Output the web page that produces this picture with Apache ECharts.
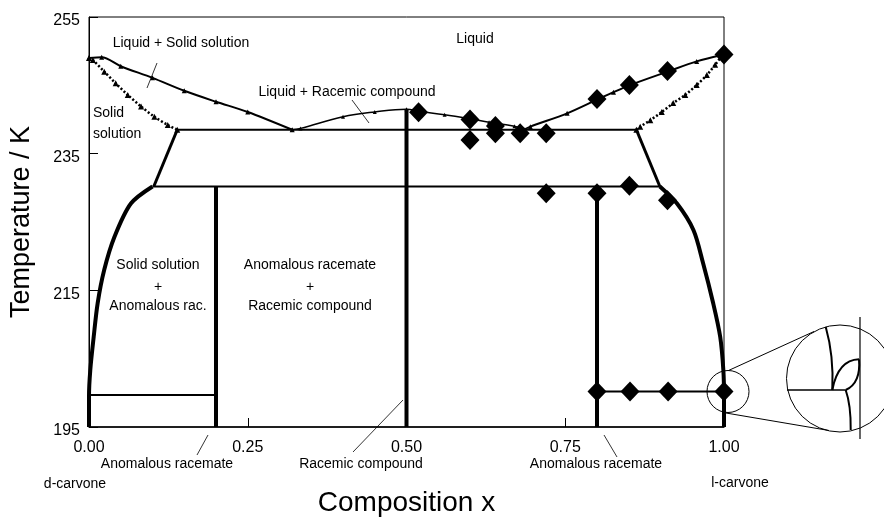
<!DOCTYPE html>
<html><head><meta charset="utf-8">
<script src="https://cdn.jsdelivr.net/npm/echarts@6/dist/echarts.min.js"></script>
<style>html,body{margin:0;padding:0;background:#fff}#c{width:884px;height:525px}</style>
</head><body><div id="c"></div>
<script>
// ---- axis ticks ----
const xTickValues = [0, 0.25, 0.5, 0.75, 1];
const yTickValues = [195, 215, 235, 255];

// ---- phase boundaries (composition x, temperature K) ----
const liquidusSolidSolutionL = [[0,249.0],[0.02,249.1],[0.05,247.8],[0.10,246.1],[0.15,244.2],[0.20,242.6],[0.25,241.1],[0.32,238.5]];
const solidusL = [[0,249.0],[0.006,248.7],[0.024,247.0],[0.042,245.3],[0.061,243.6],[0.082,241.9],[0.103,240.4],[0.124,239.2],[0.139,238.5]];
const racemicLiquidus = [[0.32,238.5],[0.333,238.7],[0.40,240.4],[0.45,241.1],[0.50,241.5],[0.52,241.2],[0.56,240.7],[0.60,240.1],[0.63,239.6],[0.67,239.0],[0.685,238.5]];
const liquidusSolidSolutionR = [[0.685,238.5],[0.695,238.95],[0.753,240.9],[0.80,242.9],[0.826,244.0],[0.851,245.0],[0.911,247.0],[0.957,248.5],[1.0,249.5]];
const solidusR = [[0.862,238.5],[0.868,238.95],[0.884,239.9],[0.902,241.1],[0.920,242.4],[0.939,243.6],[0.957,245.05],[0.973,246.5],[0.986,248.0],[0.996,249.2],[1.0,249.5]];
const steepL = [[0.139,238.5],[0.102,230.2]];
const steepR = [[0.862,238.5],[0.899,230.2]];
const eutecticLine = [[0.139,238.5],[0.862,238.5]];
const transitionLine = [[0.100,230.2],[0.899,230.2]];
const lowLineL = [[0,199.7],[0.2,199.7]];
const lowLineR = [[0.8,200.2],[1.0,200.2]];
const anomalousL = [[0.2,195],[0.2,230.2]];
const racemicCompound = [[0.5,195],[0.5,241.5]];
const anomalousR = [[0.8,195],[0.8,230.2]];
const solvusL = [[0,195],[0,199.5],[0.002,203.3],[0.0074,208.2],[0.0136,213.1],[0.024,218.0],[0.040,222.8],[0.066,227.7],[0.100,230.2]];
const solvusR = [[1,195],[1,199.5],[0.999,203.3],[0.994,208.2],[0.983,213.1],[0.967,219.0],[0.952,223.8],[0.926,227.7],[0.899,230.2]];

// ---- experimental points ----
const experimental = [[0.519,241.05],[0.600,240.0],[0.600,237.0],[0.640,239.05],[0.640,238.0],[0.679,238.0],[0.720,238.0],
  [0.800,243.0],[0.851,245.05],[0.911,247.1],[1.0,249.5],
  [0.720,229.2],[0.800,229.2],[0.851,230.3],[0.911,228.2],
  [0.800,200.2],[0.852,200.2],[0.912,200.2],[1.0,200.2]];

const FONT = "'Liberation Sans', Arial, Helvetica, sans-serif";
const chart = echarts.init(document.getElementById('c'), null, {renderer:'canvas'});

function line(data, width, opts) {
  return Object.assign({
    type:'line', data:data, showSymbol:false, symbol:'none', silent:true, animation:false,
    lineStyle:{color:'#000', width:width}, itemStyle:{color:'#000'}, z:3
  }, opts || {});
}
function triLine(data, width, size, smooth, dashed) {
  return line(data, width, {
    smooth: smooth, showSymbol:true, symbol:'triangle', symbolSize:size,
    lineStyle:{color:'#000', width:width, type: dashed ? [2,2] : 'solid'}
  });
}

function txt(text, x, y, size, align) {
  return {type:'text', silent:true, z:20, style:{text:text, x:x, y:y, font:(size||14)+'px '+FONT, fill:'#000',
    textAlign:align||'center', textVerticalAlign:'middle', align:align||'center', verticalAlign:'middle'}};
}
function seg(x1,y1,x2,y2,w) {
  return {type:'line', silent:true, z:20, shape:{x1:x1,y1:y1,x2:x2,y2:y2}, style:{stroke:'#000', lineWidth:w||0.8}};
}
function bez(x1,y1,cx,cy,x2,y2,w) {
  return {type:'bezierCurve', silent:true, z:20, shape:{x1:x1,y1:y1,cpx1:cx,cpy1:cy,x2:x2,y2:y2}, style:{stroke:'#000', lineWidth:w||2, fill:null}};
}
function circ(cx,cy,r) {
  return {type:'circle', silent:true, z:20, shape:{cx:cx,cy:cy,r:r}, style:{stroke:'#000', lineWidth:1, fill:'rgba(0,0,0,0)'}};
}

const option = {
  backgroundColor:'#fff',
  animation:false,
  grid:{left:88, right:160, top:17, bottom:98, show:true, borderColor:'#000', borderWidth:1, backgroundColor:'transparent'},
  xAxis:{
    type:'value', min:0, max:1,
    name:'Composition x', nameLocation:'middle', nameGap:62,
    nameTextStyle:{fontFamily:FONT, fontSize:28, color:'#000'},
    axisLine:{show:true, lineStyle:{color:'#000', width:1.5}},
    axisTick:{show:true, inside:true, length:9, customValues:xTickValues, lineStyle:{color:'#000'}},
    axisLabel:{show:true, customValues:xTickValues, margin:13, fontFamily:FONT, fontSize:16, color:'#000',
      formatter:function(v){return v.toFixed(2);}},
    splitLine:{show:false}
  },
  yAxis:{
    type:'value', min:195, max:255,
    name:'Temperature / K', nameLocation:'middle', nameGap:54,
    nameTextStyle:{fontFamily:FONT, fontSize:27, color:'#000'},
    axisLine:{show:true, lineStyle:{color:'#000', width:1}},
    axisTick:{show:true, inside:true, length:9, customValues:yTickValues, lineStyle:{color:'#000'}},
    axisLabel:{show:true, customValues:yTickValues, margin:9, fontFamily:FONT, fontSize:16, color:'#000',
      formatter:function(v){return '{v|' + v + '}';},
      rich:{v:{fontFamily:FONT, fontSize:16, color:'#000', padding:[8,0,0,0]}}},
    splitLine:{show:false}
  },
  series:[
    triLine(liquidusSolidSolutionL, 2, 5, 0.3, false),
    triLine(solidusL, 2.5, 6, 0.3, true),
    triLine(racemicLiquidus, 1.5, 4, 0.4, false),
    triLine(liquidusSolidSolutionR, 2, 5, 0.3, false),
    triLine(solidusR, 2.5, 6, 0.3, true),
    line(steepL, 3),
    line(steepR, 3),
    line(eutecticLine, 2),
    line(transitionLine, 2),
    line(lowLineL, 2),
    line(lowLineR, 2),
    line(anomalousL, 4),
    line(racemicCompound, 4),
    line(anomalousR, 4),
    line(solvusL, 4, {smooth:0.3}),
    line(solvusR, 4, {smooth:0.3}),
    {type:'scatter', data:experimental, symbol:'diamond', symbolSize:[19,20], clip:false, silent:true, animation:false,
      itemStyle:{color:'#000', opacity:1}, z:5}
  ],
  graphic:{elements:[
    txt('Liquid', 475, 39),
    txt('Liquid + Solid solution', 181, 43),
    seg(157,63,147,88),
    txt('Liquid + Racemic compound', 347, 92),
    seg(352,100,369,123),
    txt('Solid', 93, 113, 14, 'left'),
    txt('solution', 93, 134, 14, 'left'),
    txt('Solid solution', 158, 265),
    txt('+', 158, 287),
    txt('Anomalous rac.', 158, 306),
    txt('Anomalous racemate', 310, 265),
    txt('+', 310, 287),
    txt('Racemic compound', 310, 306),
    txt('Anomalous racemate', 167, 464),
    seg(208,435,197,455),
    txt('Racemic compound', 361, 464),
    seg(403,400,353,452),
    txt('Anomalous racemate', 596, 464),
    seg(604,435,617,457),
    txt('d-carvone', 75, 484),
    txt('l-carvone', 740, 483),
    // magnified inset
    circ(728, 391.5, 21),
    circ(840, 378.5, 53.5),
    seg(728.5,370.5,814,331.5,1),
    seg(726,413,829,430.5,1),
    seg(860,317,860,439,1.2),
    seg(787,390,845.7,390,1.5),
    bez(825.7,326.7,834,356,832.3,390,2),
    bez(832.3,390,838,360,859,359.3,2),
    bez(859,359.3,861,383,845.7,390,2),
    bez(845.7,390,851,405,850.7,430,2)
  ]}
};
chart.setOption(option);
</script>
</body></html>
